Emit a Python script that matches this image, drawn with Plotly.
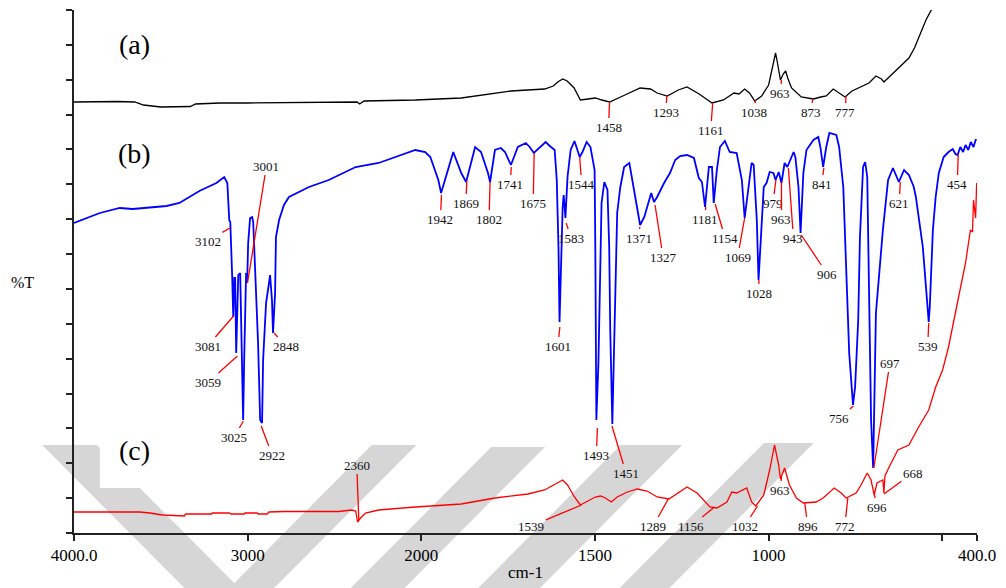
import plotly.graph_objects as go

# ---------------- data (wavenumber in cm-1, transmittance in offset arbitrary units) -------------
wn_a = [4000, 3900, 3750, 3650, 3600, 3500, 3400, 3330, 3300, 3160,
        3000, 2500, 2370, 2355, 2330, 2034, 1885, 1742, 1645, 1620,
        1607, 1593, 1580, 1560, 1542, 1520, 1499, 1480, 1458, 1420,
        1370, 1340, 1321, 1292, 1260, 1235, 1200, 1163, 1130, 1100,
        1085, 1069, 1055, 1040, 1020, 1000, 985, 980, 975, 966,
        958, 951, 945, 934, 906, 871, 850, 834, 814, 800,
        780, 760, 711, 691, 675, 668, 650, 633, 615, 596,
        580, 567, 547, 530]
t_a = [431, 431.5, 431.5, 431, 428, 426, 426, 426.5, 429, 430,
       430, 431, 431, 429, 432, 433, 435, 442, 444, 447,
       451, 454, 452, 445, 433, 434, 435, 433, 431, 437,
       445, 444, 440, 437, 443, 446, 439, 430, 433, 440,
       439, 444, 440, 432, 437, 448, 473, 480, 471, 453,
       459, 462, 455, 445, 436, 434, 436, 437, 444, 441,
       436, 442, 450, 457, 454, 451, 457, 463, 469, 475,
       485, 496, 513, 524]

wn_b = [4000, 3851, 3736, 3662, 3467, 3393, 3278, 3180, 3135, 3117,
        3106, 3100, 3089, 3083, 3077, 3072, 3066, 3054, 3043, 3031,
        3026, 3020, 3009, 3003, 2997, 2986, 2974, 2968, 2951, 2940,
        2928, 2917, 2911, 2894, 2877, 2871, 2860, 2854, 2842, 2837,
        2819, 2791, 2762, 2705, 2647, 2533, 2378, 2246, 2034, 1989,
        1974, 1951, 1943, 1908, 1885, 1871, 1845, 1828, 1808, 1802,
        1788, 1771, 1759, 1742, 1722, 1699, 1688, 1676, 1656, 1642,
        1630, 1616, 1610, 1605, 1602, 1599, 1593, 1590, 1587, 1585,
        1579, 1570, 1559, 1544, 1536, 1524, 1513, 1501, 1499, 1496,
        1490, 1484, 1481, 1473, 1464, 1459, 1456, 1450, 1441, 1436,
        1427, 1416, 1401, 1387, 1378, 1370, 1358, 1350, 1338, 1330,
        1321, 1301, 1284, 1269, 1255, 1235, 1215, 1201, 1192, 1183,
        1172, 1163, 1158, 1149, 1140, 1126, 1112, 1092, 1077, 1069,
        1060, 1049, 1043, 1034, 1029, 1020, 1014, 1006, 997, 986,
        980, 971, 963, 954, 946, 928, 923, 914, 908, 900,
        891, 871, 857, 851, 843, 834, 825, 805, 797, 785,
        777, 768, 757, 751, 742, 737, 728, 722, 716, 711,
        705, 699, 691, 671, 656, 642, 625, 610, 596, 582,
        576, 556, 545, 539, 536, 527, 519, 510, 496, 482,
        470, 462, 456, 448, 440, 433, 425, 418, 410, 404,
        401]
t_b = [310, 320, 325, 324, 327, 330, 342, 350, 356, 350,
       313, 311, 256, 216, 255, 255, 180, 258, 260, 140,
       113, 173, 260, 250, 290, 315, 316, 311, 246, 190,
       113, 110, 173, 230, 250, 258, 233, 200, 240, 296,
       313, 328, 336, 341, 346, 353, 366, 370, 383, 381,
       376, 353, 340, 381, 360, 351, 386, 381, 360, 351,
       383, 385, 381, 368, 386, 390, 386, 380, 386, 391,
       387, 383, 353, 286, 211, 253, 326, 338, 326, 315,
       356, 383, 392, 376, 381, 391, 386, 363, 286, 113,
       170, 286, 330, 351, 343, 286, 203, 109, 236, 320,
       346, 366, 370, 343, 323, 308, 316, 326, 340, 331,
       336, 350, 360, 373, 377, 378, 375, 355, 351, 326,
       366, 366, 330, 363, 386, 392, 381, 380, 353, 315,
       340, 370, 368, 313, 253, 313, 346, 350, 361, 360,
       353, 361, 350, 370, 366, 381, 376, 346, 300, 360,
       383, 393, 396, 386, 366, 386, 400, 398, 386, 346,
       263, 180, 128, 146, 213, 296, 366, 371, 356, 246,
       113, 65, 220, 303, 353, 365, 351, 363, 358, 346,
       336, 286, 236, 211, 226, 303, 336, 360, 376, 381,
       384, 379, 378, 386, 381, 388, 383, 391, 386, 393,
       393]

wn_c = [4000, 3622, 3564, 3490, 3364, 3358, 3209, 3203, 3106, 3095,
        3020, 3014, 2945, 2940, 2888, 2877, 2791, 2476, 2401, 2378,
        2367, 2350, 2321, 2246, 2034, 1885, 1788, 1693, 1645, 1593,
        1579, 1559, 1542, 1513, 1499, 1484, 1470, 1453, 1436, 1407,
        1378, 1350, 1321, 1287, 1235, 1206, 1169, 1149, 1120, 1106,
        1092, 1063, 1049, 1037, 1014, 997, 983, 971, 966, 954,
        940, 920, 900, 863, 843, 811, 791, 777, 748, 734,
        716, 705, 696, 688, 671, 668, 665, 653, 628, 596,
        568, 539, 519, 499, 482, 453, 433, 419, 413, 410,
        404, 401]
t_c = [21, 21, 20, 18, 17, 19, 19, 20, 20, 19,
       19, 20, 20, 19, 19, 21, 21.5, 21.5, 23, 22,
       11, 15, 20, 23, 26, 29, 35, 39, 43, 53,
       48, 36, 28, 33, 36, 37, 35, 31, 36, 41,
       44, 42, 36, 34, 46, 40, 26, 25, 31, 41,
       40, 45, 31, 27, 38, 63, 88, 68, 54, 65,
       48, 35, 30, 31, 35, 45, 40, 35, 40, 48,
       60, 53, 38, 50, 53, 40, 57, 66, 83, 88,
       106, 123, 146, 163, 186, 236, 270, 303, 301, 333,
       315, 350]

# peak labels: (text, transmittance at line start, text offset dx px, dy px)
labels_a = [("1458", 431, -1, 25), ("1293", 438, -1, 17), ("1161", 430, -2, 27),
            ("1038", 433, -1, 12), ("963", 453, -1, 13), ("873", 434, -2, 13),
            ("777", 437, -1, 16)]
labels_b = [("3102", 305, -22, 13), ("3001", 250, 19, -117), ("3081", 217, -26, 30),
            ("3059", 177, -29, 26), ("3025", 112, -9, 16), ("2922", 107, 11, 29),
            ("2848", 200, 12, 13), ("1942", 338, -1, 24), ("1869", 352, -1, 22),
            ("1802", 351, -1, 37), ("1741", 366, -1, 17), ("1675", 380, -1, 50),
            ("1544", 376, 2, 27), ("1601", 206, -2, 19), ("1583", 310, 5, 15),
            ("1493", 105, -1, 27), ("1451", 107, 14, 47), ("1371", 306, -1, 11),
            ("1327", 328, 8, 52), ("1181", 326, -1, 12), ("1154", 329, 10, 34),
            ("1069", 315, -7, 39), ("1028", 253, 0, 13), ("979", 353, -3, 23),
            ("963", 351, 0, 37), ("943", 365, 5, 70), ("906", 298, 26, 39),
            ("841", 365, -2, 16), ("756", 127, -14, 12), ("697", 65, 16, -105),
            ("621", 351, -1, 21), ("539", 210, -1, 23), ("454", 378, -1, 29)]
labels_c = [("2360", 13, -2, -55), ("1539", 28, -50, 21), ("1289", 34, -15, 27),
            ("1156", 26, -23, 19), ("1032", 27, -13, 20), ("963", 56, -1, 13),
            ("896", 30, 3, 23), ("772", 35, -3, 28), ("696", 39, 3, 13),
            ("668", 39, 29, -21)]

tick_wn = [4000, 3000, 2000, 1500, 1000, 500, 400]
tick_text = ["4000.0", "3000", "2000", "1500", "1000", "", "400.0"]


# ---------------- axis with scale change at 2000 cm-1 -------------
def xu(w):
    w = float(w)
    return (4000.0 - w) / 2.0 if w >= 2000 else 1000.0 + (2000.0 - w)


FONT = "Liberation Serif, Times New Roman, serif"
TOP = 523.0

fig = go.Figure()
for wn, t, col, lw in [(wn_a, t_a, "#000000", 1.3), (wn_b, t_b, "#0000ff", 1.8),
                       (wn_c, t_c, "#ff0000", 1.3)]:
    fig.add_trace(go.Scatter(x=[xu(w) for w in wn], y=t, mode="lines",
                             line=dict(color=col, width=lw), cliponaxis=False,
                             hoverinfo="skip", showlegend=False))

ann = []
for group in (labels_a, labels_b, labels_c):
    for txt, yy, dx, dy in group:
        ann.append(dict(x=xu(txt), y=yy, xref="x", yref="y", text=txt,
                        showarrow=True, arrowhead=0, arrowwidth=1.3,
                        arrowcolor="#ff0000", ax=dx, ay=dy, standoff=0,
                        font=dict(family=FONT, size=13, color="#111111")))


def px(x):
    return (x - 74.0) / 907.0


def py(y):
    return (533.0 - y) / 523.0


for txt, cx, cy in [("(a)", 135, 45), ("(b)", 135, 153), ("(c)", 135, 450)]:
    ann.append(dict(x=px(cx), y=py(cy), xref="paper", yref="paper", text=txt,
                    showarrow=False, xanchor="center", yanchor="middle",
                    font=dict(family=FONT, size=28, color="#000000")))
ann.append(dict(x=0.5, y=py(572), xref="paper", yref="paper", text="cm-1",
                showarrow=False, xanchor="center", yanchor="middle",
                font=dict(family=FONT, size=17, color="#000000")))
ann.append(dict(x=px(22), y=py(282), xref="paper", yref="paper", text="%T",
                showarrow=False, xanchor="center", yanchor="middle",
                font=dict(family=FONT, size=16, color="#000000")))

# background watermark bands (decorative)
bands = [[(42, 445), (97, 445), (250, 598), (195, 598)],
         [(373, 445), (418, 445), (265, 598), (220, 598)],
         [(493, 447), (547, 447), (396, 598), (342, 598)],
         [(623, 445), (685, 445), (532, 598), (470, 598)],
         [(767, 443), (817, 443), (662, 598), (612, 598)]]
shapes = []
for b in bands:
    path = "M " + " L ".join(f"{px(x):.4f},{py(y):.4f}" for x, y in b) + " Z"
    shapes.append(dict(type="path", path=path, xref="paper", yref="paper",
                       fillcolor="#d6d6d6", line=dict(width=0), layer="below"))
shapes.append(dict(type="rect", xref="paper", yref="paper", x0=px(100), x1=px(180),
                   y0=py(488), y1=py(445), fillcolor="#ffffff", line=dict(width=0),
                   layer="below"))

fig.update_layout(
    width=1006, height=588, autosize=False,
    margin=dict(l=74, r=25, t=10, b=55),
    paper_bgcolor="#ffffff", plot_bgcolor="rgba(0,0,0,0)",
    annotations=ann, shapes=shapes, showlegend=False,
    xaxis=dict(range=[0, 2600], tickvals=[xu(w) for w in tick_wn], ticktext=tick_text,
               ticks="outside", ticklen=6, tickwidth=1.5, tickcolor="#222222",
               showline=True, linecolor="#222222", linewidth=1.5, showgrid=False,
               zeroline=False, tickfont=dict(family=FONT, size=17, color="#000000")),
    yaxis=dict(range=[0, TOP], tickvals=[TOP * i / 15 for i in range(16)],
               showticklabels=False, ticks="outside", ticklen=6, tickwidth=1.5,
               tickcolor="#222222", showline=True, linecolor="#222222", linewidth=1.5,
               showgrid=False, zeroline=False),
)

fig.write_html("out.html", config={"displayModeBar": False},
               post_script="document.body.style.margin='0px';"
                           "document.body.style.overflow='hidden';")
